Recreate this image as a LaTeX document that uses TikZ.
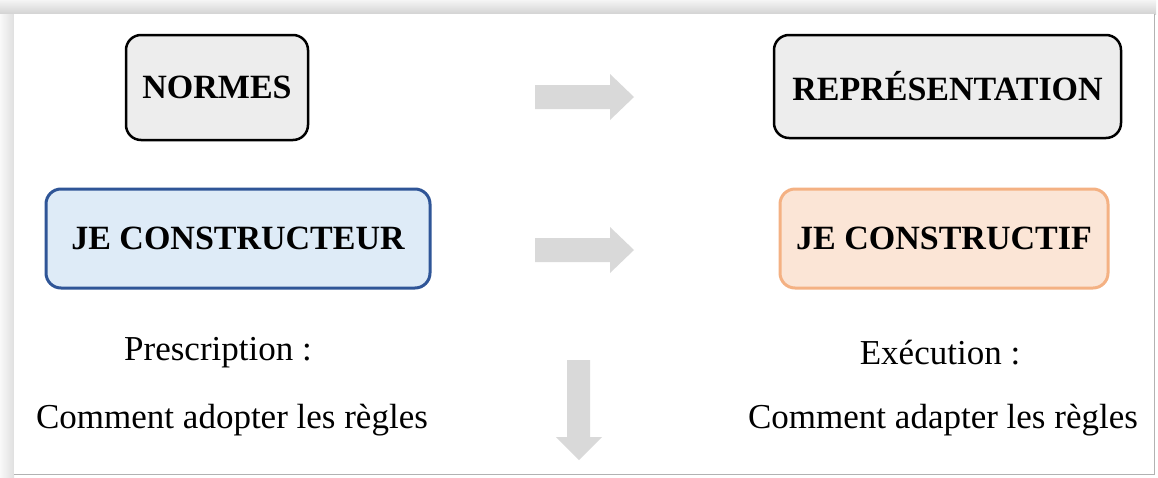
\documentclass[tikz,border=0pt]{standalone}
\usepackage{fontspec}
\setmainfont{Liberation Serif}
\definecolor{boxgray}{HTML}{EDEDED}
\definecolor{boxblue}{HTML}{DEEBF7}
\definecolor{lineblue}{HTML}{2F5597}
\definecolor{boxorange}{HTML}{FBE5D6}
\definecolor{lineorange}{HTML}{F4B183}
\definecolor{arrowgray}{HTML}{D9D9D9}
\begin{document}
\begin{tikzpicture}[x=1pt,y=-1pt,
  box/.style={rounded corners=15pt, inner sep=0pt, font=\fontsize{34}{40}\selectfont\bfseries},
  graybox/.style={box, draw=black, line width=2.5pt, fill=boxgray},
  bluebox/.style={box, draw=lineblue, line width=3pt, fill=boxblue},
  orangebox/.style={box, draw=lineorange, line width=3pt, fill=boxorange},
  plain/.style={inner sep=0pt, font=\fontsize{35}{40}\selectfont},
  blockarrow/.style={fill=arrowgray, draw=none}]
\useasboundingbox (0,0) rectangle (1158,477);
% page frame with shadow
\shade[top color=gray!8, bottom color=gray!35] (0,0) rectangle (1156,14);
\shade[left color=gray!5, right color=gray!25] (0,14) rectangle (14,477);
\fill[white] (14,14) rectangle (1154,474);
\draw[gray!60, line width=1pt] (1154,14) -- (1154,474) -- (14,474);
% boxes
\node[graybox, minimum width=182pt, minimum height=105pt] (normes) at (217,87.5) {NORMES};
\node[graybox, minimum width=347pt, minimum height=103pt] (repr) at (947.5,86.5) {REPRÉSENTATION};
\node[bluebox, minimum width=384pt, minimum height=99pt] (jecons) at (238,238.5) {JE CONSTRUCTEUR};
\node[orangebox, minimum width=328pt, minimum height=99pt] (jecinf) at (944,238.5) {JE CONSTRUCTIF};
% texts
\node[plain] (presc) at (218,353) {Prescription :};
\node[plain] (adopt) at (232,420) {Comment adopter les règles};
\node[plain] (exec) at (940,353) {Exécution :};
\node[plain] (adapt) at (943,420) {Comment adapter les règles};
% block arrows
\fill[blockarrow] (535,85) -- (610,85) -- (610,74) -- (634,97) -- (610,120) -- (610,109) -- (535,109) -- cycle;
\fill[blockarrow] (535,238) -- (610,238) -- (610,227) -- (634,250) -- (610,273) -- (610,262) -- (535,262) -- cycle;
\fill[blockarrow] (567,360) -- (590,360) -- (590,437) -- (602,437) -- (579,460) -- (556,437) -- (567,437) -- cycle;
\end{tikzpicture}
\end{document}
